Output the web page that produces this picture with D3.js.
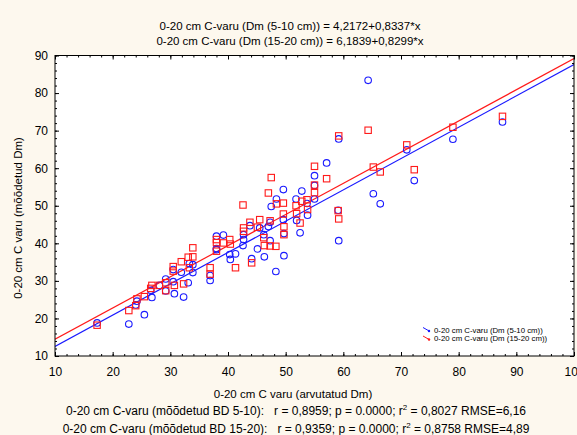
<!DOCTYPE html>
<html>
<head>
<meta charset="utf-8">
<script src="https://cdn.jsdelivr.net/npm/d3@7"></script>
<style>
  body { margin: 0; background: #fdf8ee; }
  svg { display: block; font-family: "Liberation Sans", Arial, sans-serif; }
</style>
</head>
<body>
<svg width="577" height="435"></svg>
<script>
// arvutatud Dm (x) and mõõdetud Dm for two BD depths
const xCalc = [17.3, 22.8, 24.2, 24.0, 25.5, 26.8, 26.6, 28.1, 29.2, 29.2,
  30.5, 30.5, 30.7, 31.9, 32.3, 33.1, 33.3, 33.9, 33.9, 36.9,
  36.9, 38.0, 38.0, 38.0, 39.2, 40.3, 40.4, 41.3, 42.6, 42.7,
  42.7, 43.8, 44.1, 45.1, 45.5, 46.3, 46.2, 47.0, 47.3, 47.5,
  47.3, 48.4, 48.3, 49.6, 49.6, 49.7, 49.7, 51.8, 51.9, 52.5,
  52.8, 53.7, 53.8, 55.0, 55.0, 55.0, 57.1, 59.2, 59.1, 59.2,
  64.3, 65.2, 66.4, 71.0, 72.3, 79.0, 87.6];
const yBD510 = [18.8, 18.5, 24.6, 23.6, 21.0, 25.6, 27.5, 28.8, 30.5, 27.3,
  29.8, 33.0, 26.6, 32.3, 25.7, 29.5, 34.6, 34.3, 32.2, 30.1,
  31.4, 41.9, 38.6, 38.3, 42.2, 37.0, 35.7, 37.2, 39.4, 42.3,
  41.0, 44.7, 35.9, 38.5, 44.1, 36.4, 42.3, 44.5, 45.6, 49.8,
  40.7, 51.8, 32.5, 54.3, 46.3, 42.6, 36.7, 51.8, 46.1, 42.8,
  53.9, 50.6, 47.5, 58.0, 55.4, 51.8, 61.4, 67.8, 48.8, 40.7,
  83.4, 53.2, 50.5, 64.9, 56.7, 67.7, 72.3];
const yBD1520 = [18.2, 22.1, 25.2, 23.4, 25.8, 28.8, 28.0, 28.8, 29.5, 27.4,
  33.8, 32.6, 28.8, 35.1, 29.2, 36.3, 33.5, 38.8, 36.4, 33.5,
  31.8, 41.0, 40.2, 37.9, 40.1, 41.0, 39.8, 33.5, 50.2, 44.1,
  43.2, 45.6, 34.8, 44.3, 46.3, 39.4, 41.5, 53.4, 46.0, 57.5,
  39.3, 50.5, 39.2, 50.7, 47.8, 44.4, 42.3, 50.0, 47.9, 45.4,
  51.2, 51.6, 49.0, 60.5, 55.5, 53.5, 57.2, 68.6, 48.7, 46.5,
  70.1, 60.3, 59.0, 66.2, 59.6, 70.9, 73.8];

const fit510 = [4.2172, 0.8337];
const fit1520 = [6.1839, 0.8299];

const titleLines = [
  "0-20 cm C-varu (Dm (5-10 cm)) = 4,2172+0,8337*x",
  "0-20 cm C-varu (Dm (15-20 cm)) = 6,1839+0,8299*x"
];
const legendLabels = ["0-20 cm C-varu (Dm (5-10 cm))", "0-20 cm C-varu (Dm (15-20 cm))"];
const xTitle = "0-20 cm C varu (arvutatud Dm)";
const yTitle = "0-20 cm C varu (mõõdetud Dm)";

const blue = "#1a1aff", red = "#ff1a1a";
const margin = {top: 55.5, right: 3, bottom: 79, left: 55};
const W = 577, H = 435;
const pw = W - margin.left - margin.right, ph = H - margin.top - margin.bottom;

const x = d3.scaleLinear().domain([10, 100]).range([0, pw]);
const y = d3.scaleLinear().domain([10, 90]).range([ph, 0]);

const svg = d3.select("svg");
const g = svg.append("g").attr("transform", `translate(${margin.left},${margin.top})`);

g.append("rect").attr("width", pw).attr("height", ph).attr("fill", "#fff");

g.append("clipPath").attr("id", "clip")
  .append("rect").attr("width", pw).attr("height", ph);

// ticks: minor every 2, major every 10, pointing inwards
function axes(minor, major) {
  const styleAx = sel => { sel.select(".domain").remove(); sel.selectAll("line").attr("stroke", "#000"); };
  g.append("g").attr("transform", `translate(0,${ph})`)
    .call(d3.axisBottom(x).tickValues(minor).tickSize(-2).tickFormat("")).call(styleAx);
  g.append("g")
    .call(d3.axisTop(x).tickValues(minor).tickSize(-2).tickFormat("")).call(styleAx);
  g.append("g")
    .call(d3.axisLeft(y).tickValues(d3.range(10, 91, 2)).tickSize(-2).tickFormat("")).call(styleAx);
  g.append("g").attr("transform", `translate(${pw},0)`)
    .call(d3.axisRight(y).tickValues(d3.range(10, 91, 2)).tickSize(-2).tickFormat("")).call(styleAx);

  const xb = g.append("g").attr("transform", `translate(0,${ph})`)
    .call(d3.axisBottom(x).tickValues(major).tickSize(-4).tickPadding(11)).call(styleAx);
  xb.selectAll("text").attr("font-size", 12).attr("fill", "#000").attr("font-family", null);
  g.append("g").call(d3.axisTop(x).tickValues(major).tickSize(-4).tickFormat("")).call(styleAx);
  const yl = g.append("g")
    .call(d3.axisLeft(y).tickValues(d3.range(10, 91, 10)).tickSize(-4).tickPadding(7)).call(styleAx);
  yl.selectAll("text").attr("font-size", 12).attr("fill", "#000").attr("font-family", null);
  g.append("g").attr("transform", `translate(${pw},0)`)
    .call(d3.axisRight(y).tickValues(d3.range(10, 91, 10)).tickSize(-4).tickFormat("")).call(styleAx);
}
axes(d3.range(10, 101, 2), d3.range(10, 101, 10));

const plot = g.append("g").attr("clip-path", "url(#clip)");

// fitted lines
[[fit510, blue], [fit1520, red]].forEach(([f, c]) => {
  plot.append("line")
    .attr("x1", x(10)).attr("y1", y(f[0] + f[1] * 10))
    .attr("x2", x(100)).attr("y2", y(f[0] + f[1] * 100))
    .attr("stroke", c).attr("stroke-width", 1.2);
});

// points
plot.selectAll("circle.b").data(xCalc).join("circle")
  .attr("class", "b")
  .attr("cx", d => x(d)).attr("cy", (d, i) => y(yBD510[i]))
  .attr("r", 3.3).attr("fill", "none").attr("stroke", blue).attr("stroke-width", 1.1);

plot.selectAll("rect.r").data(xCalc).join("rect")
  .attr("class", "r")
  .attr("x", d => x(d) - 3.2).attr("y", (d, i) => y(yBD1520[i]) - 3.2)
  .attr("width", 6.4).attr("height", 6.4)
  .attr("fill", "none").attr("stroke", red).attr("stroke-width", 1.1);

// frame
g.append("rect").attr("width", pw).attr("height", ph)
  .attr("fill", "none").attr("stroke", "#000").attr("stroke-width", 1);

// legend
const leg = g.append("g").attr("transform", `translate(${423 - margin.left},${327.5 - margin.top})`);
[blue, red].forEach((c, i) => {
  const row = leg.append("g").attr("transform", `translate(0,${i * 8.5})`);
  row.append("line").attr("x1", 0).attr("y1", 0).attr("x2", 7).attr("y2", 4)
    .attr("stroke", c).attr("stroke-width", 1);
  row.append("circle").attr("cx", 6).attr("cy", 3.5).attr("r", 1.2).attr("fill", c);
  row.append("text").attr("x", 11).attr("y", 5).attr("font-size", 7.8)
    .attr("fill", "#000").text(legendLabels[i]);
});

// titles
svg.selectAll("text.title").data(titleLines).join("text")
  .attr("class", "title")
  .attr("x", 290).attr("y", (d, i) => 30 + i * 15)
  .attr("text-anchor", "middle").attr("font-size", 11.5).text(d => d);

svg.append("text").attr("x", 293).attr("y", 398)
  .attr("text-anchor", "middle").attr("font-size", 11.5).text(xTitle);

svg.append("text")
  .attr("transform", "translate(22,218) rotate(-90)")
  .attr("text-anchor", "middle").attr("font-size", 11.5).text(yTitle);

const stats = [
  {label: "0-20 cm C-varu (mõõdetud BD 5-10):", r: "0,8959", p: "0.0000", r2: "0,8027", rmse: "6,16"},
  {label: "0-20 cm C-varu (mõõdetud BD 15-20):", r: "0,9359", p: "0.0000", r2: "0,8758", rmse: "4,89"}
];
stats.forEach((s, i) => {
  const t = svg.append("text").attr("x", 296).attr("y", 415 + i * 18)
    .attr("text-anchor", "middle").attr("font-size", 12).attr("xml:space", "preserve");
  t.append("tspan").text(`${s.label}   r = ${s.r}; p = ${s.p}; r`);
  t.append("tspan").attr("font-size", 8).attr("dy", -5).text("2");
  t.append("tspan").attr("dy", 5).text(` = ${s.r2} RMSE=${s.rmse}`);
});
</script>
</body>
</html>
